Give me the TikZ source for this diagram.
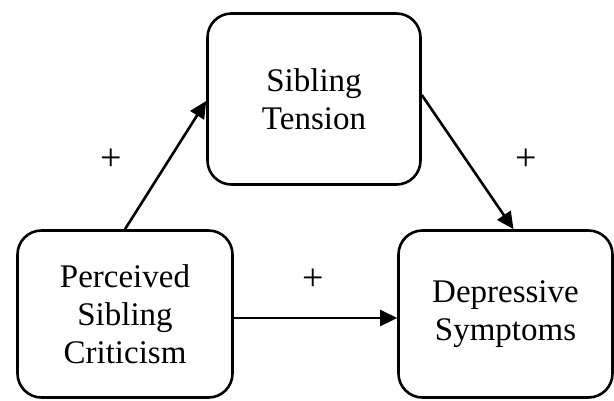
\documentclass[tikz,border=0pt]{standalone}
\usepackage{fontspec}
\setmainfont{Liberation Serif}
\usetikzlibrary{arrows.meta,calc}
\begin{document}
\begin{tikzpicture}[x=1pt,y=-1pt,
  box/.style={draw=black, line width=2.6pt, rounded corners=24pt, fill=white,
    align=center, inner sep=0pt, font=\fontsize{33}{38}\selectfont},
  link/.style={line width=2.6pt, -{Triangle[length=17pt,width=16pt]}},
  sign/.style={font=\fontsize{38}{38}\selectfont, inner sep=0pt}]
\useasboundingbox[fill=white] (0,0) rectangle (614,400);
\node[box, minimum width=215pt, minimum height=167pt] (a) at (125,314) {Perceived\\Sibling\\Criticism};
\node[box, minimum width=213pt, minimum height=171pt] (b) at (314,99) {Sibling\\Tension};
\node[box, minimum width=214pt, minimum height=167pt] (c) at (505.5,314) {Depressive\\Symptoms};
\draw[link] (a.north) -- ($(b.west)+(0,2)$);
\draw[link] ($(b.east)+(0,-4)$) -- ($(c.north)+(8,0)$);
\draw[link] ($(a.east)+(0,4)$) -- ($(c.west)+(0,4)$);
\node[sign] (p1) at (111,160) {+};
\node[sign] (p2) at (526,160) {+};
\node[sign] (p3) at (313,280) {+};
\end{tikzpicture}
\end{document}
